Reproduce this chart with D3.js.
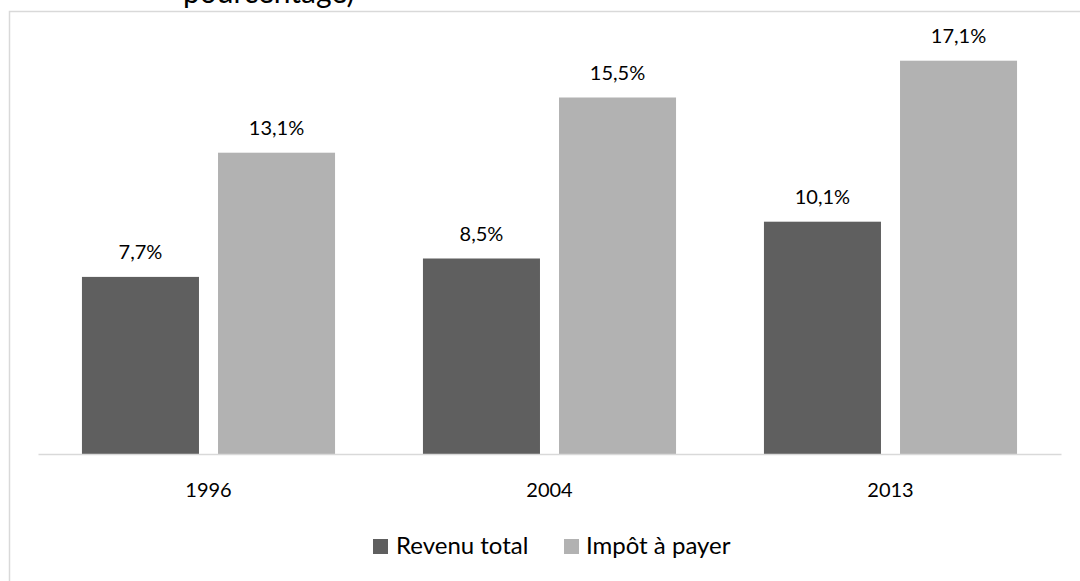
<!DOCTYPE html>
<html>
<head>
<meta charset="utf-8">
<script src="https://cdn.jsdelivr.net/npm/d3@7"></script>
<style>
  body { margin: 0; background: #fff; }
  svg { display: block; font-family: Lato, "Open Sans", sans-serif; }
</style>
</head>
<body>
<div id="content"></div>
<script>
// Data.
var years = ['1996', '2004', '2013'];
var seriesNames = ['Revenu total', 'Impôt à payer'];
var revenuTotal = [7.7, 8.5, 10.1];
var impotAPayer = [13.1, 15.5, 17.1];
var colors = ['#5f5f5f', '#b2b2b2'];

var width = 1080, height = 581;

var svg = d3.select('#content')
              .append('svg')
              .attr('width', width)
              .attr('height', height);

// Chart area border (partly outside the picture).
svg.append('rect')
    .attr('x', 9.5).attr('y', 11.5)
    .attr('width', 1100).attr('height', 600)
    .attr('fill', 'none')
    .attr('stroke', '#d9d9d9')
    .attr('stroke-width', 1.5);

// Cut-off title line (the rest lies above the picture).
svg.append('text')
    .attr('x', 183).attr('y', 3)
    .attr('font-size', 30)
    .attr('fill', '#000')
    .text('pourcentage)');

// Scales.
var x0 = d3.scaleBand().domain(years).range([38, 1061]);
var x1 = d3.scaleBand().domain(seriesNames)
             .range([0, x0.bandwidth()])
             .paddingInner(0.14).paddingOuter(0.323);
var y = d3.scaleLinear().domain([0, 1]).range([454, 431]);

var rows = years.map(function(yr, i) {
  return {year : yr, values : [revenuTotal[i], impotAPayer[i]]};
});

var groups = svg.selectAll('g.year')
                  .data(rows)
                  .enter()
                  .append('g')
                  .attr('class', 'year')
                  .attr('transform', function(d) { return 'translate(' + x0(d.year) + ',0)'; });

groups.selectAll('rect')
    .data(function(d) { return d.values.map(function(v, j) { return {name : seriesNames[j], v : v, j : j}; }); })
    .enter()
    .append('rect')
    .attr('x', function(d) { return x1(d.name); })
    .attr('y', function(d) { return y(d.v); })
    .attr('width', x1.bandwidth())
    .attr('height', function(d) { return y(0) - y(d.v); })
    .attr('fill', function(d) { return colors[d.j]; });

groups.selectAll('text.lbl')
    .data(function(d) { return d.values.map(function(v, j) { return {name : seriesNames[j], v : v}; }); })
    .enter()
    .append('text')
    .attr('class', 'lbl')
    .attr('x', function(d) { return x1(d.name) + x1.bandwidth() / 2; })
    .attr('y', function(d) { return y(d.v) - 18; })
    .attr('text-anchor', 'middle')
    .attr('font-size', 20)
    .attr('fill', '#000')
    .text(function(d) { return d.v.toFixed(1).replace('.', ',') + '%'; });

// X axis.
var xAxis = svg.append('g')
                 .attr('transform', 'translate(0,' + y(0) + ')')
                 .call(d3.axisBottom(x0).tickSize(0).tickPadding(29));
xAxis.select('.domain').attr('stroke', '#d9d9d9').attr('stroke-width', 1.5);
xAxis.selectAll('text')
    .attr('font-family', 'Lato, "Open Sans", sans-serif')
    .attr('font-size', 20)
    .attr('fill', '#000');

// Legend.
var legendX = [373, 564];
var legend = svg.selectAll('g.legend')
                  .data(seriesNames)
                  .enter()
                  .append('g')
                  .attr('class', 'legend')
                  .attr('transform', function(d, i) { return 'translate(' + legendX[i] + ',539)'; });
legend.append('rect')
    .attr('width', 15).attr('height', 15)
    .attr('fill', function(d, i) { return colors[i]; });
legend.append('text')
    .attr('x', function(d, i) { return i === 0 ? 23 : 22; })
    .attr('y', 15)
    .attr('font-size', 24)
    .attr('fill', '#000')
    .text(function(d) { return d; });
</script>
</body>
</html>
